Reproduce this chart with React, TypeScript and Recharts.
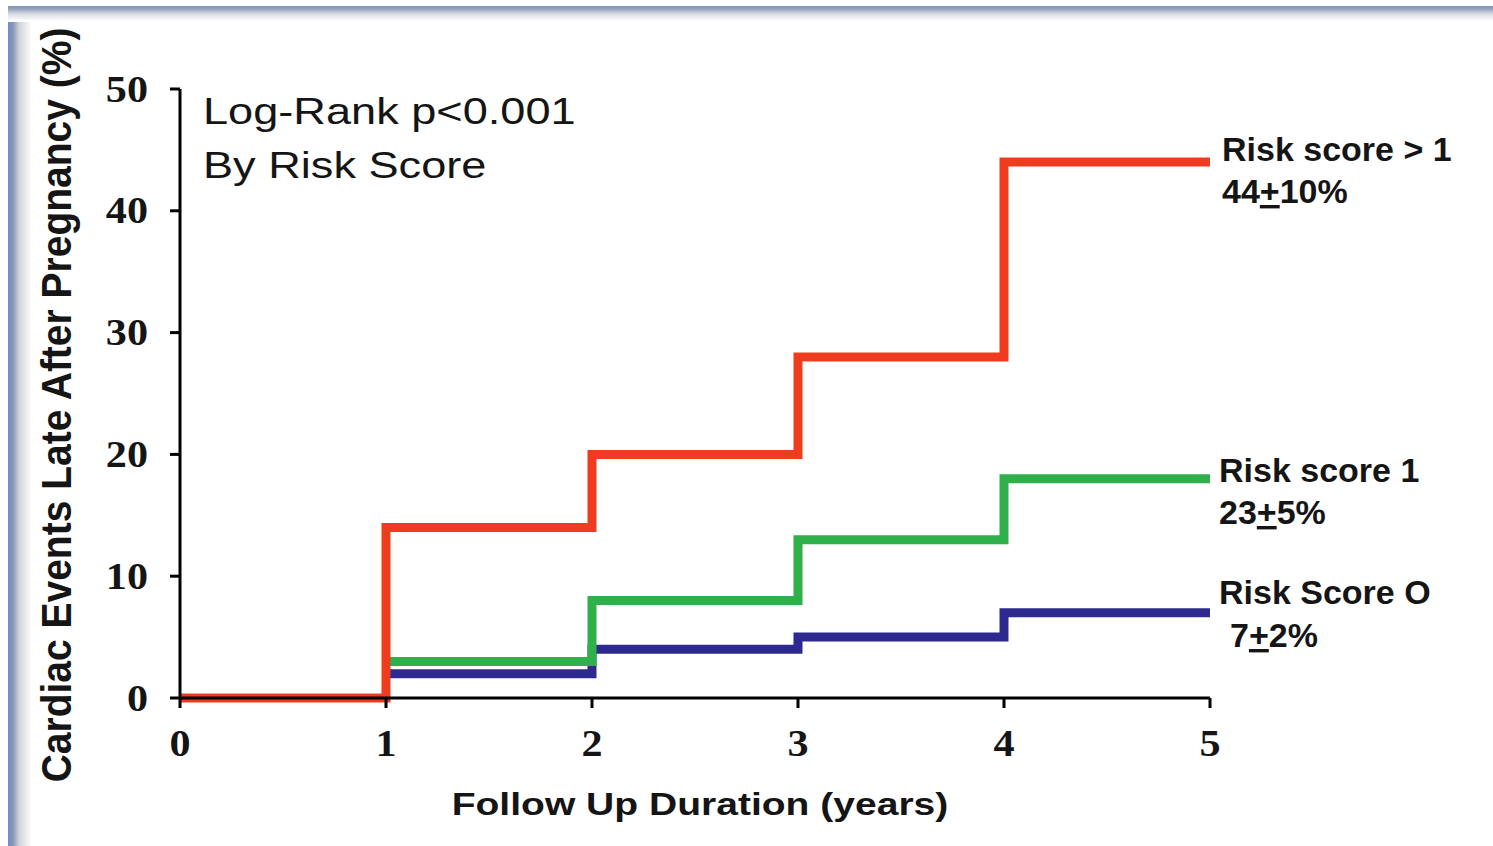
import React from 'react';
import { LineChart, Line, XAxis, YAxis } from 'recharts';

// follow-up years and cumulative event rate (%) per risk group
const years = [0, 1, 2, 3, 4, 5];
const riskAboveOne = [0, 14, 20, 28, 44, 44];
const riskOne = [null, 3, 8, 13, 18, 18];
const riskZero = [null, 2, 4, 5, 7, 7];
const yTicks = [0, 10, 20, 30, 40, 50];

const data = years.map((t, i) => ({
  t,
  high: riskAboveOne[i],
  one: riskOne[i],
  zero: riskZero[i],
}));

const RED = '#f03c1e';
const GREEN = '#2fb04a';
const BLUE = '#2c2a8e';
const INK = '#151515';

// the type in this figure is a bit wide, so stretch it horizontally
const SX = 1.22;
const SX_SERIF = 1.14;

const serifTick = {
  fontFamily: '"Liberation Serif", "DejaVu Serif", serif',
  fontSize: 37,
  fontWeight: 'bold' as const,
  fill: INK,
};

const YTick = (props: any) => {
  const { x, y, payload } = props;
  return (
    <g transform={`translate(${x},${y})`}>
      <text transform={`scale(${SX_SERIF},1)`} textAnchor="end" dy="0.34em" {...serifTick}>
        {payload.value}
      </text>
    </g>
  );
};

const XTick = (props: any) => {
  const { x, y, payload } = props;
  return (
    <g transform={`translate(${x},${y})`}>
      <text transform={`scale(${SX_SERIF},1)`} textAnchor="middle" dy="0.71em" {...serifTick}>
        {payload.value}
      </text>
    </g>
  );
};

const sans = '"Liberation Sans", Arial, sans-serif';

const App: React.FC = () => {
  return (
    <div style={{ position: 'absolute', left: 0, top: 0, width: 1493, height: 846, background: '#fff', overflow: 'hidden' }}>
      {/* frame edges */}
      <div style={{ position: 'absolute', left: 8, top: 6, width: 26, height: 840, background: 'linear-gradient(to right, #6b8dc9 0px, #8797b6 5px, #cfd2d8 11px, #ffffff 24px)' }} />
      <div style={{ position: 'absolute', left: 8, top: 6, width: 1485, height: 16, background: 'linear-gradient(to bottom, #7893c2 0px, #98a4bc 3px, #d9dce3 8px, #ffffff 15px)' }} />

      <div style={{ position: 'absolute', left: 0, top: 0 }}>
        <LineChart width={1493} height={846} data={data} margin={{ top: 89, right: 283, left: 120, bottom: 0 }}>
          <XAxis
            dataKey="t"
            type="number"
            domain={[0, 5]}
            ticks={years}
            height={148}
            tickSize={10}
            tickMargin={22}
            axisLine={{ stroke: '#000', strokeWidth: 3 }}
            tickLine={{ stroke: '#000', strokeWidth: 3 }}
            tick={<XTick />}
          />
          <YAxis
            type="number"
            domain={[0, 50]}
            ticks={yTicks}
            width={60}
            tickSize={10}
            tickMargin={22}
            axisLine={{ stroke: '#000', strokeWidth: 3 }}
            tickLine={{ stroke: '#000', strokeWidth: 3 }}
            tick={<YTick />}
          />
          <Line dataKey="zero" type="stepAfter" stroke={BLUE} strokeWidth={9} dot={false} activeDot={false} isAnimationActive={false} />
          <Line dataKey="one" type="stepAfter" stroke={GREEN} strokeWidth={9} dot={false} activeDot={false} isAnimationActive={false} />
          <Line dataKey="high" type="stepAfter" stroke={RED} strokeWidth={9} dot={false} activeDot={false} isAnimationActive={false} />
        </LineChart>
      </div>

      {/* titles and annotations */}
      <svg width={1493} height={846} style={{ position: 'absolute', left: 0, top: 0, pointerEvents: 'none' }}>
        <text
          transform={`translate(71,405) rotate(-90) scale(1,1.1)`}
          textAnchor="middle"
          fontFamily={sans}
          fontSize={39}
          fontWeight="bold"
          fill={INK}
        >
          Cardiac Events Late After Pregnancy (%)
        </text>
        <text transform={`translate(700,815) scale(${SX},1)`} textAnchor="middle" fontFamily={sans} fontSize={32} fontWeight="bold" fill={INK}>
          Follow Up Duration (years)
        </text>

        <g fontFamily={sans} fontSize={37} fill={INK}>
          <text transform={`translate(203,124) scale(${SX},1)`}>Log-Rank p&lt;0.001</text>
          <text transform={`translate(203,178) scale(${SX},1)`}>By Risk Score</text>
        </g>

        <g fontFamily={sans} fontSize={34} fontWeight="bold" fill={INK}>
          <text x={1222} y={161}>Risk score &gt; 1</text>
          <text x={1222} y={203}>
            44<tspan textDecoration="underline">+</tspan>10%
          </text>
          <text x={1219} y={482}>Risk score 1</text>
          <text x={1219} y={524}>
            23<tspan textDecoration="underline">+</tspan>5%
          </text>
          <text x={1219} y={604}>Risk Score O</text>
          <text x={1230} y={647}>
            7<tspan textDecoration="underline">+</tspan>2%
          </text>
        </g>
      </svg>
    </div>
  );
};

export default App;
